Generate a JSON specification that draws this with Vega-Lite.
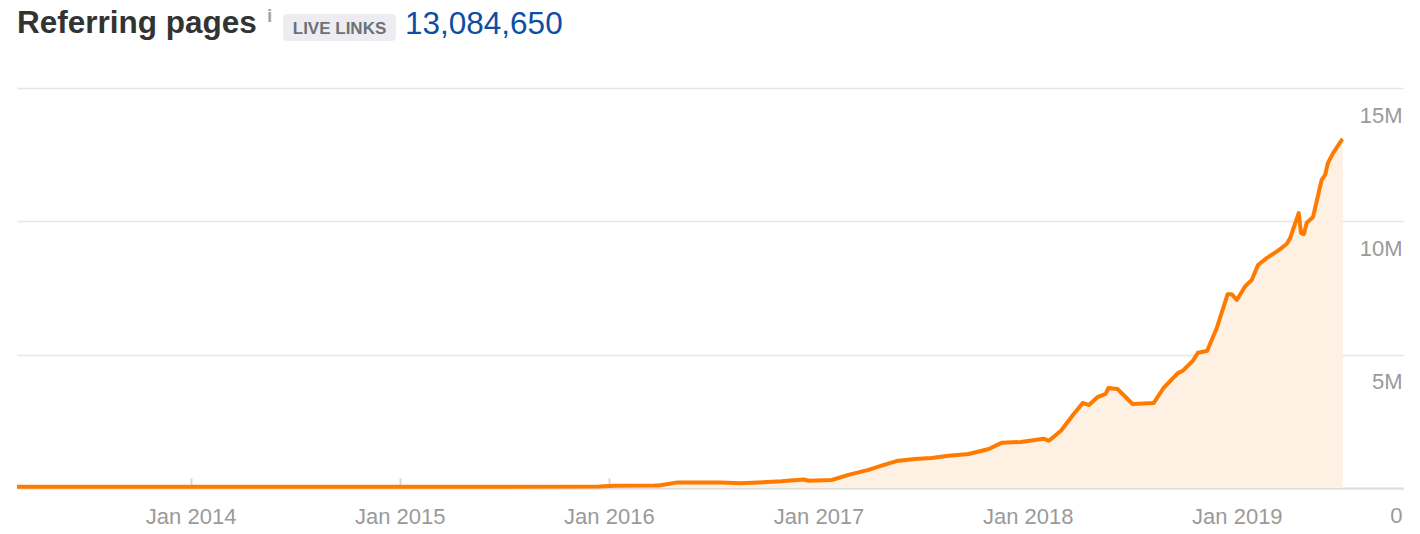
{
  "$schema": "https://vega.github.io/schema/vega-lite/v6.json",
  "autosize": {"type": "none"},
  "padding": {"left": 17, "top": 88, "right": 17, "bottom": 46},
  "width": 1386,
  "height": 400,
  "background": "white",
  "config": {"font": "Liberation Sans", "view": {"stroke": null}},
  "layer": [
    {
      "data": {"name": "series"},
      "mark": {"type": "area", "color": "#fff0e4", "opacity": 1},
      "encoding": {
        "x": {"field": "date", "type": "temporal", "scale": {"domain": ["2013-03-04", "2019-10-18"]},
          "axis": {"title": null, "format": "%b %Y", "tickCount": {"interval": "year", "step": 1}, "grid": false,
            "domainColor": "#dcdcdc", "domainWidth": 2, "tickColor": "#d6d6d6", "tickWidth": 2, "tickSize": -10,
            "labelFontSize": 22, "labelColor": "#9a9a9a", "labelFont": "Liberation Sans", "labelPadding": 38, "labelBaseline": "middle"}},
        "y": {"field": "v", "type": "quantitative", "scale": {"domain": [0, 15000000], "nice": false},
          "axis": {"title": null, "orient": "right", "values": [0, 5000000, 10000000, 15000000],
            "labelExpr": "datum.value == 0 ? '0' : (datum.value / 1000000) + 'M'",
            "domain": false, "ticks": false, "grid": true, "gridColor": "#e6e6e6", "gridWidth": 1.5,
            "labelAlign": "right", "labelPadding": -1, "labelOffset": 27, "labelBaseline": "middle",
            "labelFontSize": 22, "labelColor": "#9a9a9a", "labelFont": "Liberation Sans"}}
      }
    },
    {
      "data": {"name": "series"},
      "mark": {"type": "line", "color": "#ff7b00", "strokeWidth": 4, "strokeJoin": "round"},
      "encoding": {
        "x": {"field": "date", "type": "temporal"},
        "y": {"field": "v", "type": "quantitative"}
      }
    },
    {
      "data": {"values": [{"k": 1}]},
      "mark": {"type": "text", "text": "Referring pages", "fontSize": 31.5, "fontWeight": "bold", "color": "#333333", "align": "left", "baseline": "alphabetic", "font": "Liberation Sans"},
      "encoding": {"x": {"value": 0}, "y": {"value": -55}}
    },
    {
      "data": {"values": [{"k": 1}]},
      "mark": {"type": "rect", "color": "#ededf1", "cornerRadius": 4},
      "encoding": {"x": {"value": 266}, "x2": {"value": 379}, "y": {"value": -74}, "y2": {"value": -47}}
    },
    {
      "data": {"values": [{"k": 1}]},
      "mark": {"type": "text", "text": "LIVE LINKS", "fontSize": 17, "fontWeight": "bold", "color": "#6c7078", "align": "center", "baseline": "alphabetic", "font": "Liberation Sans"},
      "encoding": {"x": {"value": 322.5}, "y": {"value": -54}}
    },
    {
      "data": {"values": [{"k": 1}]},
      "mark": {"type": "text", "text": "i", "fontSize": 19, "fontWeight": "bold", "color": "#a6a6a6", "align": "left", "baseline": "alphabetic", "font": "Liberation Sans"},
      "encoding": {"x": {"value": 250}, "y": {"value": -66}}
    },
    {
      "data": {"values": [{"k": 1}]},
      "mark": {"type": "text", "text": "13,084,650", "fontSize": 31.5, "color": "#0d4ea3", "align": "left", "baseline": "alphabetic", "font": "Liberation Sans"},
      "encoding": {"x": {"value": 388}, "y": {"value": -54}}
    }
  ],
  "datasets": {
    "series": [
      {"date": "2013-03-04", "v": 48000},
      {"date": "2014-01-01", "v": 48000},
      {"date": "2015-01-01", "v": 50000},
      {"date": "2015-12-15", "v": 52000},
      {"date": "2016-01-10", "v": 85000},
      {"date": "2016-03-20", "v": 90000},
      {"date": "2016-03-28", "v": 95000},
      {"date": "2016-04-30", "v": 210000},
      {"date": "2016-07-15", "v": 210000},
      {"date": "2016-08-18", "v": 180000},
      {"date": "2016-10-28", "v": 250000},
      {"date": "2016-12-06", "v": 320000},
      {"date": "2016-12-15", "v": 270000},
      {"date": "2017-01-24", "v": 300000},
      {"date": "2017-02-22", "v": 490000},
      {"date": "2017-03-29", "v": 680000},
      {"date": "2017-04-21", "v": 840000},
      {"date": "2017-05-17", "v": 1010000},
      {"date": "2017-06-18", "v": 1090000},
      {"date": "2017-07-17", "v": 1125000},
      {"date": "2017-08-16", "v": 1210000},
      {"date": "2017-09-20", "v": 1275000},
      {"date": "2017-10-25", "v": 1460000},
      {"date": "2017-11-17", "v": 1700000},
      {"date": "2017-12-20", "v": 1725000},
      {"date": "2018-01-29", "v": 1850000},
      {"date": "2018-02-07", "v": 1770000},
      {"date": "2018-02-28", "v": 2150000},
      {"date": "2018-03-21", "v": 2740000},
      {"date": "2018-04-07", "v": 3190000},
      {"date": "2018-04-18", "v": 3110000},
      {"date": "2018-05-03", "v": 3410000},
      {"date": "2018-05-17", "v": 3530000},
      {"date": "2018-05-22", "v": 3750000},
      {"date": "2018-06-07", "v": 3710000},
      {"date": "2018-07-03", "v": 3150000},
      {"date": "2018-08-09", "v": 3190000},
      {"date": "2018-08-26", "v": 3750000},
      {"date": "2018-09-20", "v": 4310000},
      {"date": "2018-09-29", "v": 4400000},
      {"date": "2018-10-16", "v": 4770000},
      {"date": "2018-10-25", "v": 5070000},
      {"date": "2018-11-10", "v": 5140000},
      {"date": "2018-11-27", "v": 6000000},
      {"date": "2018-12-16", "v": 7270000},
      {"date": "2018-12-23", "v": 7270000},
      {"date": "2019-01-01", "v": 7050000},
      {"date": "2019-01-15", "v": 7550000},
      {"date": "2019-01-27", "v": 7800000},
      {"date": "2019-02-07", "v": 8360000},
      {"date": "2019-02-22", "v": 8620000},
      {"date": "2019-03-14", "v": 8900000},
      {"date": "2019-03-29", "v": 9150000},
      {"date": "2019-04-04", "v": 9370000},
      {"date": "2019-04-19", "v": 10310000},
      {"date": "2019-04-23", "v": 9560000},
      {"date": "2019-04-28", "v": 9520000},
      {"date": "2019-05-03", "v": 9950000},
      {"date": "2019-05-14", "v": 10160000},
      {"date": "2019-05-29", "v": 11550000},
      {"date": "2019-06-04", "v": 11740000},
      {"date": "2019-06-09", "v": 12190000},
      {"date": "2019-06-18", "v": 12560000},
      {"date": "2019-07-03", "v": 13050000},
      {"date": "2019-07-05", "v": 13084650}
    ]
  }
}
